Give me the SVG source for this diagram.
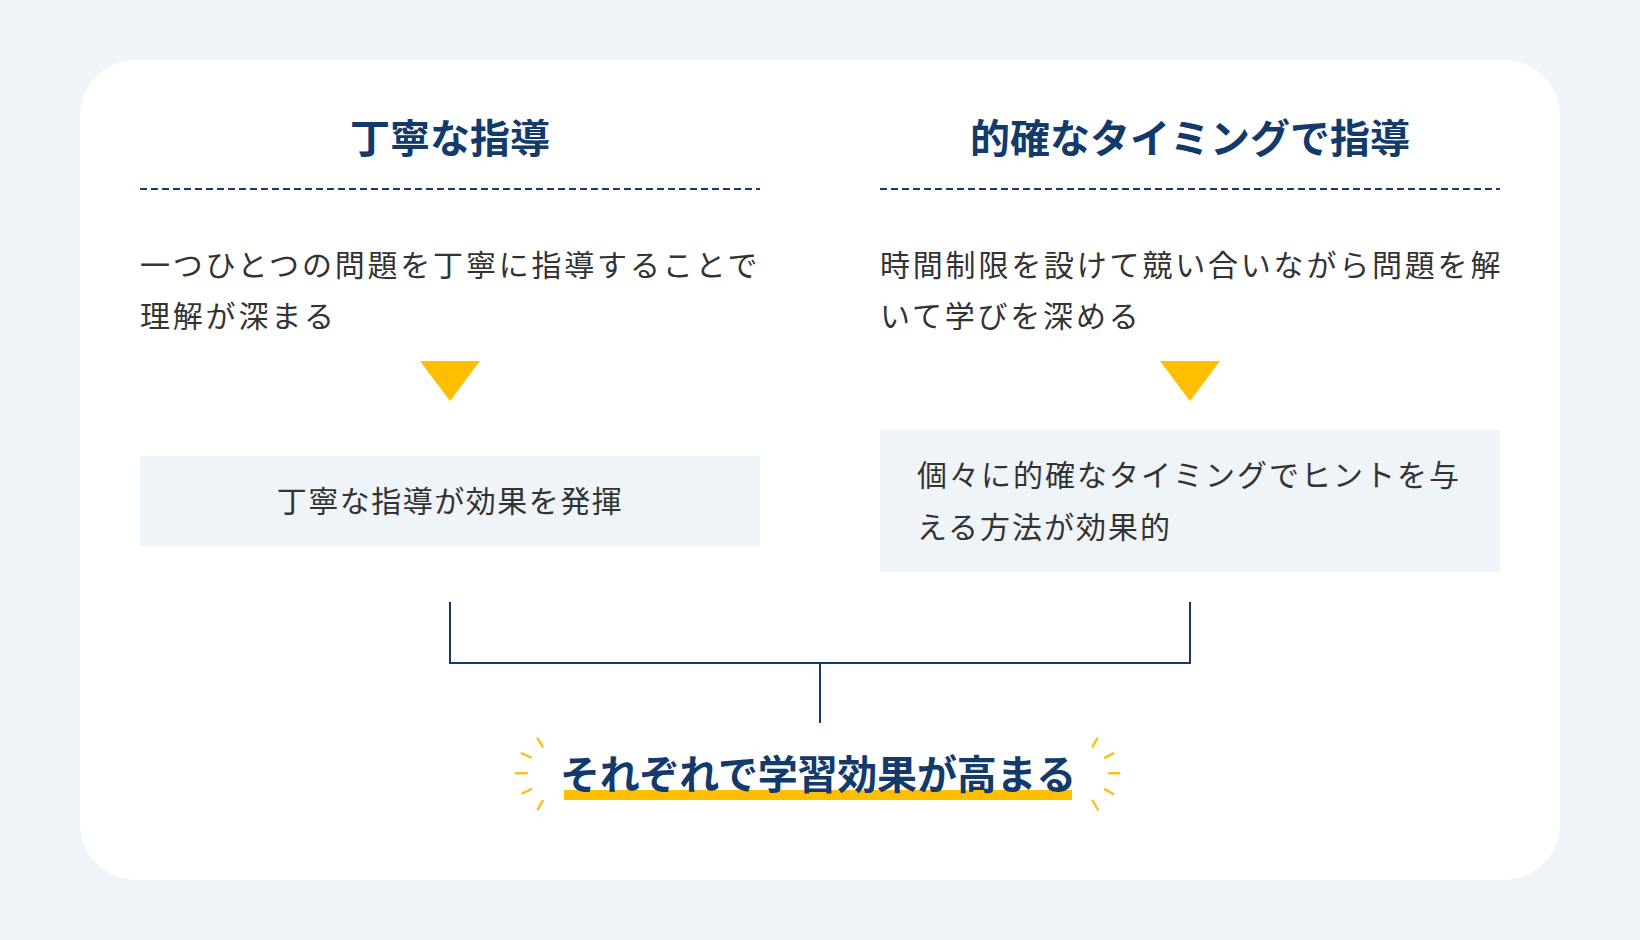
<svg xmlns="http://www.w3.org/2000/svg" width="1640" height="940" viewBox="0 0 1640 940">
  <style>
    .title { font-family: "Noto Sans CJK JP", "Noto Sans", sans-serif; font-weight: 700; font-size: 40px; fill: #123a6b; text-anchor: middle; }
    .body { font-family: "Noto Sans CJK JP", "Noto Sans", sans-serif; font-weight: 400; font-size: 30px; fill: #333333; letter-spacing: 2.8px; }
    .boxtext { font-family: "Noto Sans CJK JP", "Noto Sans", sans-serif; font-weight: 400; font-size: 30px; fill: #333333; letter-spacing: 1.8px; }
    .box { fill: #eff4f9; }
    .dash { stroke: #123a6b; stroke-width: 2; stroke-dasharray: 7 4; fill: none; }
    .tri { fill: #ffbf00; }
    .conn { stroke: #123a6b; stroke-width: 2; fill: none; }
    .spark { stroke: #f7c21f; stroke-width: 2.5; stroke-linecap: round; fill: none; }
    .result { font-family: "Noto Sans CJK JP", "Noto Sans", sans-serif; font-weight: 700; font-size: 40px; fill: #123a6b; text-anchor: middle; letter-spacing: -0.2px; }
  </style>
  <rect x="0" y="0" width="1640" height="940" fill="#eff4f8"/>
  <rect x="80" y="60" width="1480" height="820" rx="56" ry="56" fill="#ffffff"/>

  <g id="left-column">
    <text class="title" x="450" y="153">丁寧な指導</text>
    <line class="dash" x1="140" y1="189" x2="760" y2="189"/>
    <text class="body" x="140" y="276">一つひとつの問題を丁寧に指導することで</text>
    <text class="body" x="140" y="327">理解が深まる</text>
    <polygon class="tri" points="420,361 480,361 450,401"/>
  </g>

  <g id="left-result">
    <rect class="box" x="140" y="456" width="620" height="90"/>
    <text class="boxtext" x="450" y="512" text-anchor="middle" style="letter-spacing:1.5px">丁寧な指導が効果を発揮</text>
  </g>

  <g id="right-column">
    <text class="title" x="1190" y="153">的確なタイミングで指導</text>
    <line class="dash" x1="880" y1="189" x2="1500" y2="189"/>
    <text class="body" x="880" y="276">時間制限を設けて競い合いながら問題を解</text>
    <text class="body" x="880" y="327">いて学びを深める</text>
    <polygon class="tri" points="1160,361 1220,361 1190,401"/>
  </g>

  <g id="right-result">
    <rect class="box" x="880" y="430" width="620" height="142"/>
    <text class="boxtext" x="917" y="486" style="letter-spacing:2px">個々に的確なタイミングでヒントを与</text>
    <text class="boxtext" x="917" y="538" style="letter-spacing:2px">える方法が効果的</text>
  </g>

  <g id="connectors">
    <polyline class="conn" points="450,602 450,663 1190,663 1190,602"/>
    <line class="conn" x1="820" y1="663" x2="820" y2="723"/>
  </g>

  <g id="conclusion">
    <rect x="564" y="790" width="508" height="10" fill="#ffbf00"/>
    <text class="result" x="818" y="789">それぞれで学習効果が高まる</text>
    <g id="sparkles-left">
      <line class="spark" x1="537.7" y1="738.3" x2="542.7" y2="746.7"/>
      <line class="spark" x1="521.7" y1="753.3" x2="530.7" y2="757.3"/>
      <line class="spark" x1="516" y1="773.3" x2="526.7" y2="773.3"/>
      <line class="spark" x1="522.3" y1="793.3" x2="531" y2="789.3"/>
      <line class="spark" x1="537.7" y1="809.3" x2="542.7" y2="801"/>
    </g>
    <g id="sparkles-right">
      <line class="spark" x1="1097.3" y1="738.3" x2="1092.7" y2="746.7"/>
      <line class="spark" x1="1113.3" y1="753.3" x2="1105" y2="757.7"/>
      <line class="spark" x1="1109" y1="773.3" x2="1119.3" y2="773.3"/>
      <line class="spark" x1="1105" y1="789.3" x2="1113.3" y2="794"/>
      <line class="spark" x1="1092.7" y1="800.7" x2="1097.7" y2="809.3"/>
    </g>
  </g>
</svg>
